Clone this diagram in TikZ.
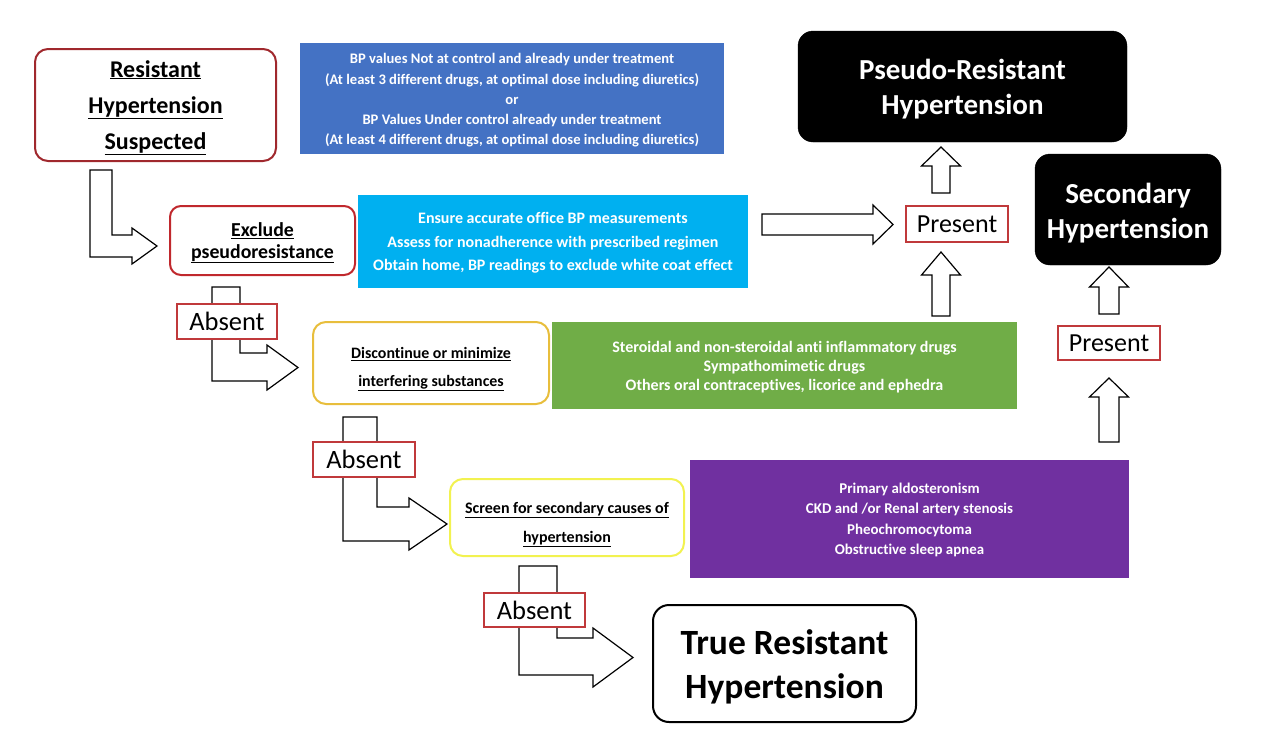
\documentclass[tikz,border=0pt]{standalone}
\usepackage{fontspec}
\setmainfont{Carlito}[Ligatures=NoCommon]
\definecolor{cblue}{HTML}{4472C4}
\definecolor{ccyan}{HTML}{00B0F0}
\definecolor{cgreen}{HTML}{70AD47}
\definecolor{cpurple}{HTML}{7030A0}
\definecolor{resred}{HTML}{A0282D}
\definecolor{exred}{HTML}{C0282D}
\definecolor{absred}{HTML}{C0393B}
\definecolor{cgold}{HTML}{E8BE3C}
\definecolor{cyell}{HTML}{F2F250}
\tikzset{
  rbox/.style={draw, rounded corners=13pt, line width=2pt, fill=white, inner sep=0pt},
  blackbox/.style={draw=black, fill=black, rounded corners=15pt, inner sep=0pt},
  fbox/.style={draw=none, inner sep=0pt},
  txt/.style={align=center, inner sep=0pt},
  wtxt/.style={txt, text=white},
  lbl/.style={draw=absred, line width=1.8pt, fill=white, inner sep=0pt, font=\fontsize{26.5}{30}\selectfont},
  harrow/.style={draw=black, line width=1.2pt, fill=white, line join=miter},
}
\newcommand{\Larrow}[9]{%
  \draw[harrow] (#1,#3) -- (#2,#3) -- (#2,#4) -- (#6,#4) -- (#6,#7) -- (#9,{(#7+#8)/2}) -- (#6,#8) -- (#6,#5) -- (#1,#5) -- cycle;}
\newcommand{\Uarrow}[6]{%
  \draw[harrow] ({#1-#5},#2) -- ({#1-#5},#3) -- ({#1-#6},#3) -- (#1,#4) -- ({#1+#6},#3) -- ({#1+#5},#3) -- ({#1+#5},#2) -- cycle;}
\begin{document}
\begin{tikzpicture}[x=1pt,y=-1pt]
\useasboundingbox (0,0) rectangle (1280,753);
\fill[white] (0,0) rectangle (1280,753);

% hollow block arrows
\Larrow{90}{112}{170}{235}{257}{132}{228}{264}{157}
\Larrow{212}{240}{287}{353}{381}{267}{345}{390}{298}
\Larrow{343}{377}{417}{507}{541}{409}{498}{550}{447}
\Larrow{519}{557}{566}{638}{675}{593}{628}{687}{633}
\draw[harrow] (762,214) -- (873,214) -- (873,205) -- (893,224.5) -- (873,244) -- (873,235) -- (762,235) -- cycle;
\Uarrow{941}{193}{166}{147}{9}{19.5}
\Uarrow{941}{316}{275}{252}{9}{19.5}
\Uarrow{1109}{314}{287}{267}{10}{19.5}
\Uarrow{1109}{442}{397}{378}{10}{19.5}

% boxes
\node[rbox, draw=resred, minimum width=241pt, minimum height=112pt] (rhs) at (155.5,105) {};
\node[txt, font=\fontsize{24}{36}\selectfont\bfseries] (rhsT) at ([yshift=-2.5pt]rhs.center)
  {\underline{Resistant}\\\underline{Hypertension}\\\underline{Suspected}};

\node[fbox, fill=cblue, minimum width=424pt, minimum height=111pt] (crit) at (512,98.5) {};
\node[wtxt, font=\fontsize{14.6}{20.3}\selectfont\bfseries] (critT) at ([yshift=-2pt]crit.center)
  {BP values Not at control and already under treatment\\
   (At least 3 different drugs, at optimal dose including diuretics)\\
   or\\
   BP Values Under control already under treatment\\
   (At least 4 different drugs, at optimal dose including diuretics)};

\node[blackbox, minimum width=329pt, minimum height=111pt] (pseudo) at (962.5,86.5) {};
\node[wtxt, font=\fontsize{29}{35}\selectfont\bfseries] (pseudoT) at ([yshift=-3pt]pseudo.center)
  {Pseudo-Resistant\\Hypertension};

\node[blackbox, minimum width=186pt, minimum height=111pt] (sec) at (1128,209.5) {};
\node[wtxt, font=\fontsize{29}{35}\selectfont\bfseries] (secT) at ([yshift=-3.5pt]sec.center)
  {Secondary\\Hypertension};

\node[rbox, draw=exred, minimum width=185pt, minimum height=69pt, rounded corners=11pt] (excl) at (262.5,240.5) {};
\node[txt, font=\fontsize{19.8}{21.5}\selectfont\bfseries] (exclT) at ([yshift=-2.5pt]excl.center)
  {\underline{Exclude}\\\underline{pseudoresistance}};

\node[fbox, fill=ccyan, minimum width=390pt, minimum height=93pt] (ensure) at (553,241.5) {};
\node[wtxt, font=\fontsize{16}{23.5}\selectfont\bfseries] (ensureT) at ([yshift=-1.5pt]ensure.center)
  {Ensure accurate office BP measurements\\
   Assess for nonadherence with prescribed regimen\\
   Obtain home, BP readings to exclude white coat effect};

\node[rbox, draw=cgold, minimum width=236pt, minimum height=82pt] (disc) at (431,363) {};
\node[txt, font=\fontsize{15.9}{28}\selectfont\bfseries] (discT) at ([yshift=-6pt]disc.center)
  {\underline{Discontinue or minimize}\\\underline{interfering substances}};

\node[fbox, fill=cgreen, minimum width=465pt, minimum height=87pt] (drugs) at (784.5,365.5) {};
\node[wtxt, font=\fontsize{16}{19}\selectfont\bfseries] (drugsT) at ([yshift=-1.5pt]drugs.center)
  {Steroidal and non-steroidal anti inflammatory drugs\\
   Sympathomimetic drugs\\
   Others oral contraceptives, licorice and ephedra};

\node[rbox, draw=cyell, minimum width=234pt, minimum height=77pt] (screen) at (567,517.5) {};
\node[txt, font=\fontsize{16}{29}\selectfont\bfseries] (screenT) at ([yshift=-7pt]screen.center)
  {\underline{Screen for secondary causes of}\\\underline{hypertension}};

\node[fbox, fill=cpurple, minimum width=439pt, minimum height=118pt] (causes) at (909.5,519) {};
\node[wtxt, font=\fontsize{14.9}{20.3}\selectfont\bfseries] (causesT) at ([yshift=-1pt]causes.center)
  {Primary aldosteronism\\
   CKD and /or Renal artery stenosis\\
   Pheochromocytoma\\
   Obstructive sleep apnea};

\node[rbox, draw=black, minimum width=263pt, minimum height=117pt, rounded corners=16pt] (trueR) at (784.5,663.5) {};
\node[txt, font=\fontsize{35.5}{44}\selectfont\bfseries] (trueRT) at ([yshift=-3.5pt]trueR.center)
  {True Resistant\\Hypertension};

% labels
\node[lbl, minimum width=100pt, minimum height=35pt] (abs1) at (227,321.5) {Absent};
\node[lbl, minimum width=102pt, minimum height=35pt] (abs2) at (364,459.5) {Absent};
\node[lbl, minimum width=101pt, minimum height=34pt] (abs3) at (534.5,610) {Absent};
\node[lbl, minimum width=102pt, minimum height=36pt, font=\fontsize{26}{30}\selectfont] (pres1) at (957,224) {Present};
\node[lbl, minimum width=102pt, minimum height=34pt, font=\fontsize{26}{30}\selectfont] (pres2) at (1109,343) {Present};
\end{tikzpicture}
\end{document}
